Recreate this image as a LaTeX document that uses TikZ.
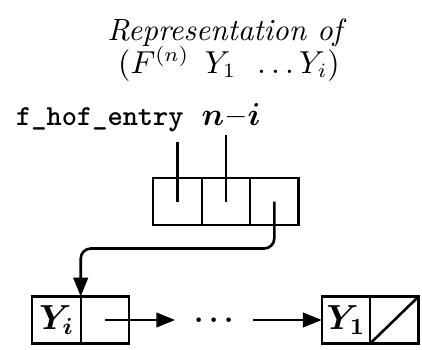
\documentclass[tikz,border=0pt]{standalone}
\usepackage{bm}
\usetikzlibrary{arrows.meta,positioning}

\tikzset{
  cell/.style={draw, line width=0.8pt, minimum width=16.7pt, minimum height=16.2pt, inner sep=0pt, outer sep=0pt},
  ptr/.style={line width=0.9pt},
  arr/.style={line width=0.9pt, -{Triangle[length=6.5pt,width=5pt]}},
  lbl/.style={font=\fontsize{10.6}{13}\selectfont}
}

\begin{document}
\begin{tikzpicture}[x=0.345pt, y=-0.345pt]
\useasboundingbox (0,0) rectangle (422,350);

%TITLE
\node[lbl, anchor=base] (title1) at (227,40) {\textit{Representation of}};
\node[lbl, anchor=base] (title2) at (229,73) {$(F^{(n)}\ \, Y_1\ \,\ldots Y_i)$};

%HEADER CELLS
\node[cell] (hc1) at (177.5,201.5) {};
\node[cell, right=0pt of hc1] (hc2) {};
\node[cell, right=0pt of hc2] (hc3) {};

%FIELD LABELS
\node[anchor=base west] (fhof) at (6,125) {\texttt{\bfseries f\_hof\_entry}};
\node[lbl, anchor=base] (nmi) at (231,125) {$\bm{n}$\kern1pt\textbf{--}\kern1pt$\bm{i}$};
\draw[ptr] (hc1.center) -- (hc1.center |- fhof.south);
\draw[ptr] (hc2.center) -- (hc2.center |- nmi.south);

%LIST
\node[cell] (la) at (56.5,320) {\large$\bm{Y_i}$};
\node[cell, right=0pt of la] (lb) {};
\node[inner sep=6.5pt, text height=5pt, text depth=0pt] (dots) at (214,320) {$\bm{\cdots}$};
\node[cell] (ra) at (346,320) {\large$\bm{Y_1}$};
\node[cell, right=0pt of ra] (rb) {};
\draw[ptr] (rb.south west) -- (rb.north east);

\draw[arr, rounded corners=3.5pt] (hc3.center) -- ++(0,47) -| (la.north east);
\draw[arr] (lb.center) -- (dots.west);
\draw[arr] (dots.east) -- (ra.west);

\end{tikzpicture}
\end{document}
